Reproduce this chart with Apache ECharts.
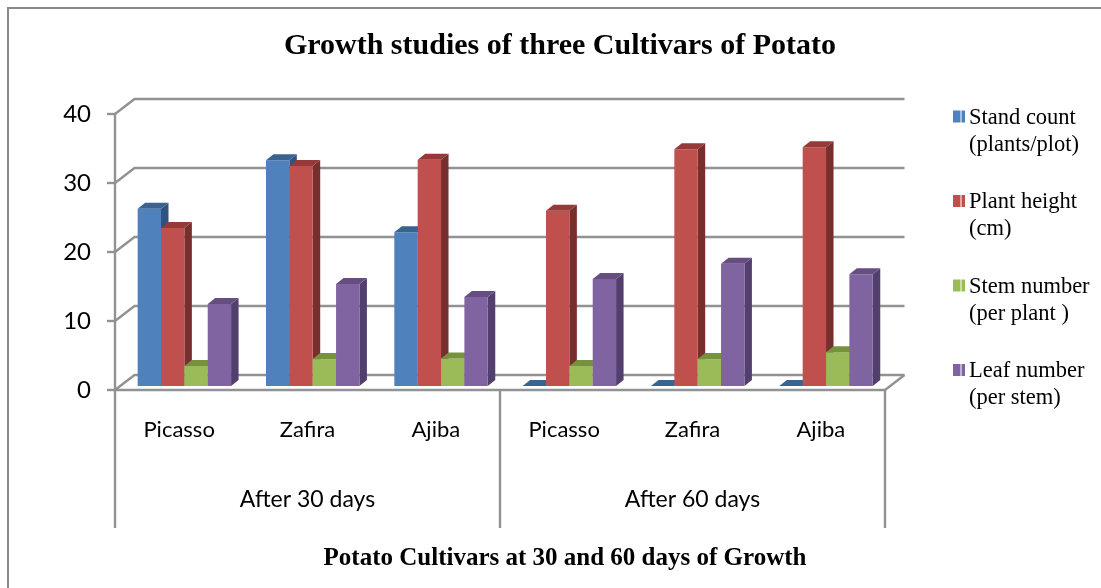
<!DOCTYPE html>
<html>
<head>
<meta charset="utf-8">
<style>html,body{margin:0;padding:0;background:#fff}#c{width:1101px;height:588px}</style>
<script src="https://cdn.jsdelivr.net/npm/echarts@6/dist/echarts.min.js"></script>
</head>
<body>
<div id="c"></div>
<script>
const cultivars = ['Picasso','Zafira','Ajiba','Picasso ','Zafira ','Ajiba '];
const periods = ['After 30 days','After 60 days'];
const yTicks = [0,10,20,30,40];
const standCount = [25.7,32.7,22.3,0,0,0];
const plantHeight = [22.9,31.9,32.8,25.4,34.3,34.6];
const stemNumber = [2.9,3.9,4.0,2.9,3.9,4.9];
const leafNumber = [11.9,14.8,12.9,15.5,17.7,16.2];
const seriesNames = ['Stand count\n(plants/plot)','Plant height\n(cm)','Stem number\n(per plant )','Leaf number\n(per stem)'];
const seriesValues = [standCount,plantHeight,stemNumber,leafNumber];
const palette = [
  {front:'#4F81BD',top:'#3A6391',side:'#2F5380'},
  {front:'#C0504D',top:'#953A38',side:'#772F2E'},
  {front:'#9BBB59',top:'#76923F',side:'#5F7530'},
  {front:'#8064A2',top:'#654E80',side:'#533F6D'}
];
const gray = '#929292';
const lineW = 2.4;
const wallDx = 19.5, wallDy = -15;
const barDx = 7.5, barDy = -6;

function barSeries(name, values, idx){
  return {
    type:'custom', name, coordinateSystem:'cartesian2d', xAxisIndex:0, yAxisIndex:0,
    itemStyle:{color:palette[idx].front}, z:5,
    data: values.map((v,i)=>[cultivars[i],v]),
    encode:{x:0,y:1},
    renderItem(params,api){
      const c = api.coord([api.value(0),api.value(1)]);
      const base = api.coord([api.value(0),0]);
      const w = api.size([1,0])[0]*0.182;
      const x0 = c[0]+5.2+(idx-2)*w, x1 = x0+w;
      const yb = base[1]-4, yt = c[1]-4;
      const p = palette[idx];
      const children = [];
      if (yb-yt>0.5){
        children.push({type:'polygon',shape:{points:[[x1,yt],[x1+barDx,yt+barDy],[x1+barDx,yb+barDy],[x1,yb]]},style:{fill:p.side}});
        children.push({type:'rect',shape:{x:x0,y:yt,width:w,height:yb-yt},style:{fill:p.front}});
      }
      children.push({type:'polygon',shape:{points:[[x0,yt],[x0+barDx,yt+barDy],[x1+barDx,yt+barDy],[x1,yt]]},style:{fill:p.top}});
      return {type:'group',children};
    }
  };
}

const wall = {
  type:'custom', name:'wall', coordinateSystem:'cartesian2d', xAxisIndex:0, yAxisIndex:0, z:1, silent:true,
  data: yTicks.map(t=>[cultivars[0],t]),
  encode:{x:0,y:1},
  renderItem(params,api){
    const p = api.coord([cultivars[0],api.value(1)]);
    const band = api.size([1,0])[0];
    const xl = p[0]-band/2;
    const xr = xl+band*cultivars.length;
    const y = p[1];
    const children = [{type:'polyline',shape:{points:[[xl,y],[xl+wallDx,y+wallDy],[xr+wallDx,y+wallDy]]},style:{fill:null,stroke:gray,lineWidth:lineW}}];
    if (api.value(1)===0){
      children.push({type:'line',shape:{x1:xr,y1:y,x2:xr+wallDx,y2:y+wallDy},style:{stroke:gray,lineWidth:lineW}});
    }
    return {type:'group',children};
  }
};

const chart = echarts.init(document.getElementById('c'),null,{renderer:'canvas'});
chart.setOption({
  animation:false,
  backgroundColor:'#fff',
  title:[
    {text:'Growth studies of three Cultivars of Potato',left:555,top:26,textAlign:'center',
     textStyle:{fontFamily:'Liberation Serif',fontWeight:'bold',fontSize:30,color:'#000'}},
    {text:'Potato Cultivars at 30 and 60 days of Growth',left:560,top:541,textAlign:'center',
     textStyle:{fontFamily:'Liberation Serif',fontWeight:'bold',fontSize:25,color:'#000'}}
  ],
  grid:{left:115,top:114,width:770,height:276,containLabel:false},
  xAxis:[
    {type:'category',data:cultivars,position:'bottom',
     axisLine:{lineStyle:{color:gray,width:lineW}},axisTick:{show:false},
     axisLabel:{fontFamily:'Lato',fontSize:22,color:'#000',margin:29,interval:0,
       formatter:v=>v.trim()}},
    {type:'category',data:periods,position:'bottom',
     axisLine:{show:false},axisTick:{show:true,length:138,lineStyle:{color:gray,width:lineW}},
     axisLabel:{fontFamily:'Lato',fontSize:23,color:'#000',margin:98,interval:0}}
  ],
  yAxis:{type:'value',min:0,max:40,interval:10,
    axisLine:{show:true,lineStyle:{color:gray,width:lineW}},
    axisTick:{show:true,length:8,lineStyle:{color:gray,width:lineW}},
    splitLine:{show:false},
    axisLabel:{fontFamily:'Lato',fontSize:24,color:'#000',margin:24,data:yTicks}},
  legend:{orient:'vertical',left:948,top:99.5,itemGap:30.5,itemWidth:12,itemHeight:42,
    selectedMode:false,
    icon:'path://M0 0H7.5V12H0Z M8.5 0H12V12H8.5Z M0 42L0 42',
    data:seriesNames,
    textStyle:{fontFamily:'Liberation Serif',fontSize:22.5,lineHeight:27,color:'#000',padding:[0,0,0,-1]}},
  graphic:[{type:'polyline',silent:true,z:0,shape:{points:[[8,588],[8,8],[1101,8]]},style:{fill:null,stroke:'#888',lineWidth:2}}],
  series:[wall].concat(seriesNames.map((n,i)=>barSeries(n,seriesValues[i],i)))
});
</script>
</body>
</html>
